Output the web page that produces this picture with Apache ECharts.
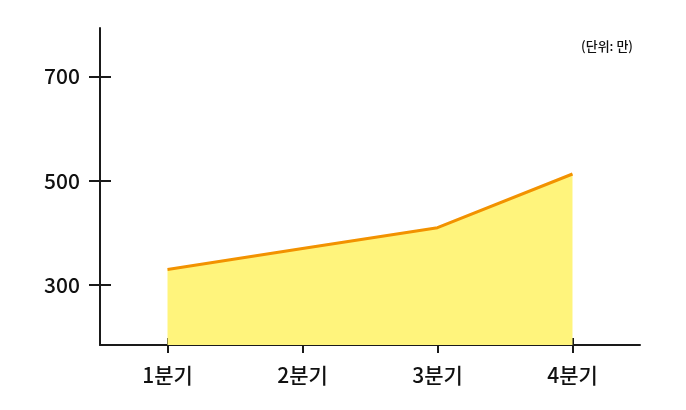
<!DOCTYPE html>
<html><head><meta charset="utf-8">
<script src="https://cdn.jsdelivr.net/npm/echarts@6/dist/echarts.min.js"></script>
<style>html,body{margin:0;padding:0;background:#fff}#c{width:686px;height:410px}</style>
</head><body><div id="c"></div>
<script>
const categories = ['1분기','2분기','3분기','4분기'];
const values = [330, 370, 410, 513];
const yTicks = [300, 500, 700];
const unitLabel = '(단위: 만)';

const FONT = '"Noto Sans CJK KR", "Noto Sans", sans-serif';
const chart = echarts.init(document.getElementById('c'), null, {renderer:'canvas'});
const axisColor = '#1a1a1a';
chart.setOption({
  animation: false,
  grid: {left: 100, right: 46, top: 28, bottom: 65, containLabel: false},
  title: {text: unitLabel, right: 48, top: 35,
    textStyle: {fontFamily: FONT, fontSize: 13, fontWeight: 500, color: '#111'}},
  xAxis: [{
    type: 'category', data: categories, boundaryGap: true,
    axisLine: {lineStyle: {color: axisColor, width: 2}},
    axisTick: {show: true, interval: 0, alignWithLabel: true, length: 8, lineStyle: {color: axisColor, width: 2}},
    axisLabel: {fontFamily: FONT, fontSize: 21, fontWeight: 500, color: '#111', margin: 20}
  },{
    type: 'category', data: categories, boundaryGap: true, position: 'bottom',
    axisLine: {show: false},
    axisTick: {show: true, interval: 0, alignWithLabel: true, inside: true, length: 7, lineStyle: {color: axisColor, width: 2}},
    axisLabel: {show: false}
  }],
  yAxis: [{
    type: 'value', min: 185, max: 793,
    axisLine: {show: true, lineStyle: {color: axisColor, width: 2}},
    axisTick: {show: true, length: 11, customValues: yTicks, lineStyle: {color: axisColor, width: 2}},
    axisLabel: {fontFamily: FONT, fontSize: 21, fontWeight: 500, color: '#111', margin: 20, customValues: yTicks},
    splitLine: {show: false}
  },{
    type: 'value', min: 185, max: 793, position: 'left',
    axisLine: {show: false},
    axisTick: {show: true, inside: true, length: 11, customValues: yTicks, lineStyle: {color: axisColor, width: 2}},
    axisLabel: {show: false},
    splitLine: {show: false}
  }],
  series: [{
    type: 'line', data: values, symbol: 'none', z: 1,
    lineStyle: {color: '#F29200', width: 3},
    areaStyle: {color: '#FFF47C', opacity: 1}
  }]
});
</script></body></html>
